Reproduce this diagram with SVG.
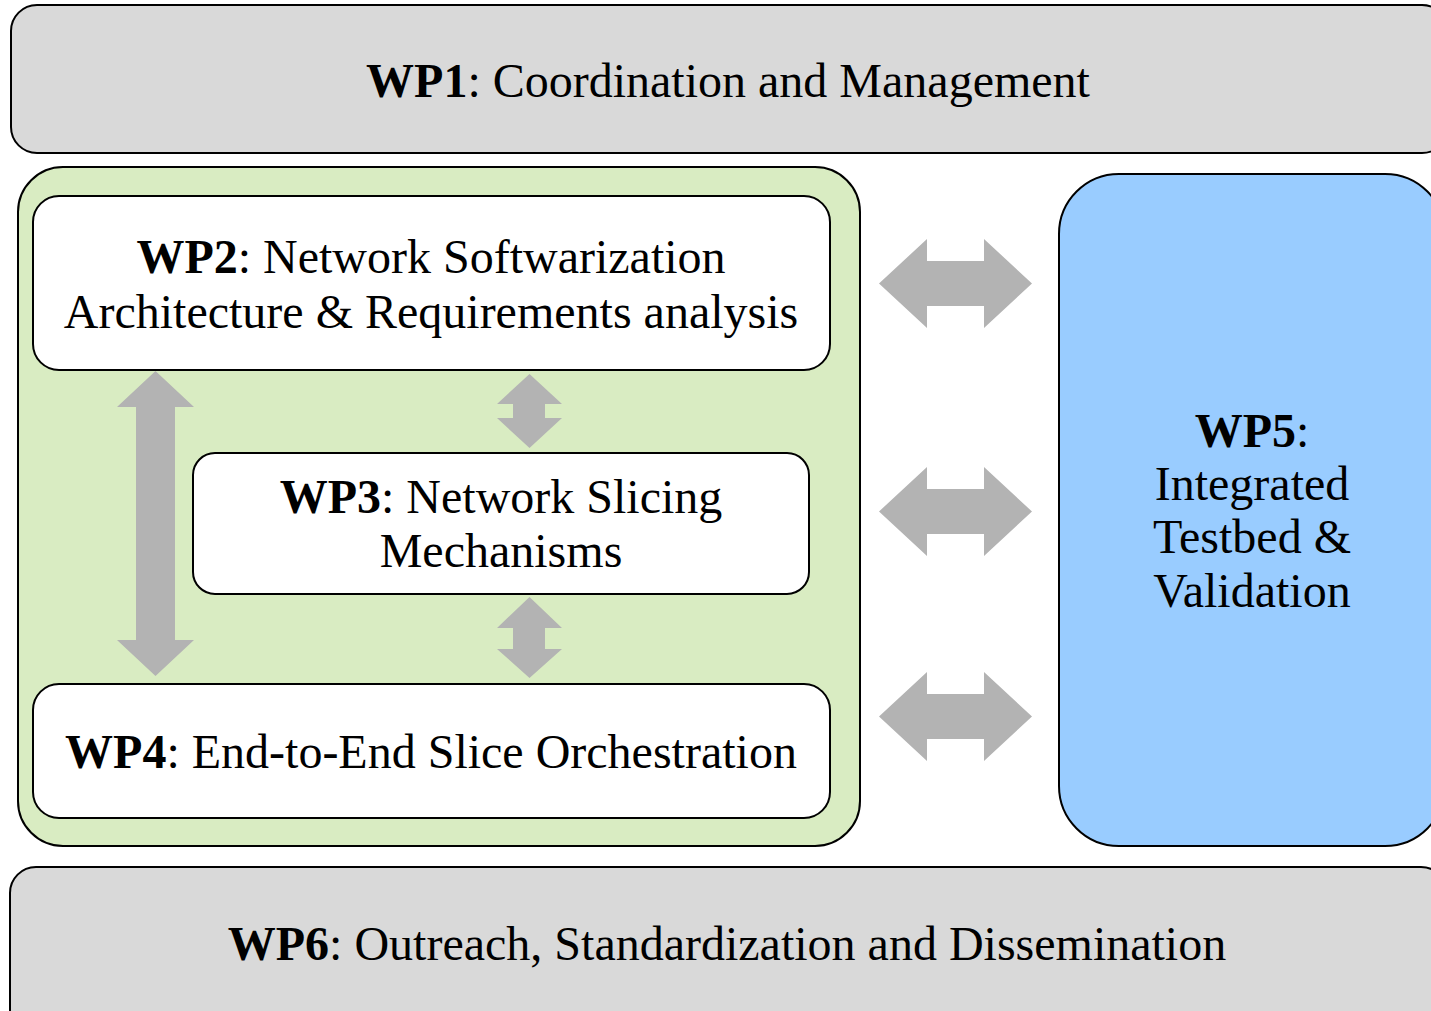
<svg xmlns="http://www.w3.org/2000/svg" width="1431" height="1011" viewBox="0 0 1431 1011">
<style>
.box{stroke:#000;stroke-width:2}
.t{font-family:"Liberation Serif","Times New Roman",serif;font-size:48px;fill:#000;text-anchor:middle}
.b{font-weight:bold}
.arr{fill:#b3b3b3}
</style>
<rect width="1431" height="1011" fill="#fff"/>
<g id="wp1">
<rect class="box" x="11" y="5" width="1437" height="148" rx="26" fill="#d9d9d9"/>
<text class="t" x="728" y="97"><tspan class="b">WP1</tspan>: Coordination and Management</text>
</g>
<g id="group">
<rect class="box" x="18" y="167" width="842" height="679" rx="45" fill="#d9ecc2"/>
</g>
<g id="wp2">
<rect class="box" x="33" y="196" width="797" height="174" rx="26" fill="#fff"/>
<text class="t" x="431" y="273"><tspan class="b">WP2</tspan>: Network Softwarization</text>
<text class="t" x="431" y="328">Architecture &amp; Requirements analysis</text>
</g>
<g id="wp3">
<rect class="box" x="193" y="453" width="616" height="141" rx="22" fill="#fff"/>
<text class="t" x="501" y="513"><tspan class="b">WP3</tspan>: Network Slicing</text>
<text class="t" x="501" y="567">Mechanisms</text>
</g>
<g id="wp4">
<rect class="box" x="33" y="684" width="797" height="134" rx="26" fill="#fff"/>
<text class="t" x="431" y="768"><tspan class="b">WP4</tspan>: End-to-End Slice Orchestration</text>
</g>
<g id="wp5">
<rect class="box" x="1059" y="174" width="386" height="672" rx="60" fill="#99ccff"/>
<text class="t" x="1252" y="447"><tspan class="b">WP5</tspan>:</text>
<text class="t" x="1252" y="500">Integrated</text>
<text class="t" x="1252" y="553">Testbed &amp;</text>
<text class="t" x="1252" y="607">Validation</text>
</g>
<g id="wp6">
<rect class="box" x="10" y="867" width="1437" height="170" rx="26" fill="#d9d9d9"/>
<text class="t" x="727" y="960"><tspan class="b">WP6</tspan>: Outreach, Standardization and Dissemination</text>
</g>
<g id="connectors">
<polygon class="arr" points="879,283.5 927,239 927,261 984,261 984,239 1032,283.5 984,328 984,306 927,306 927,328"/>
<polygon class="arr" points="879,511.5 927,467 927,489 984,489 984,467 1032,511.5 984,556 984,534 927,534 927,556"/>
<polygon class="arr" points="879,716.5 927,672 927,694 984,694 984,672 1032,716.5 984,761 984,739 927,739 927,761"/>
<polygon class="arr" points="155.5,371 194,407 175,407 175,640 194,640 155.5,676 117,640 136,640 136,407 117,407"/>
<polygon class="arr" points="529.5,374 562,404 545,404 545,418 562,418 529.5,448 497,418 513,418 513,404 497,404"/>
<polygon class="arr" points="529.5,597 562,628 545,628 545,649 562,649 529.5,678 497,649 513,649 513,628 497,628"/>
</g>
</svg>
